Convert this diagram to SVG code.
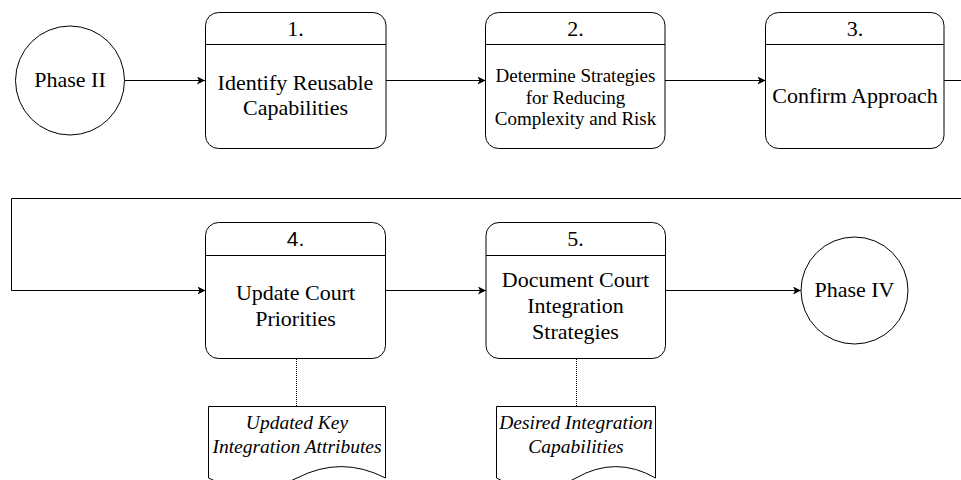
<svg xmlns="http://www.w3.org/2000/svg" width="961" height="480" viewBox="0 0 961 480">
<defs>
<style>
.shape{fill:#fff;stroke:#000;stroke-width:1}
.line{fill:none;stroke:#000;stroke-width:1}
.dot{fill:none;stroke:#000;stroke-width:1;stroke-dasharray:1 1}
.t{font-family:"Liberation Serif","Times New Roman",serif;font-size:22px;fill:#000;text-anchor:middle}
.s{font-size:19px}
.i{font-family:"Liberation Serif","Times New Roman",serif;font-size:19.5px;font-style:italic;fill:#000;text-anchor:middle}
.sans{font-family:"Liberation Sans",Arial,sans-serif;font-size:21px;fill:#000;text-anchor:middle}
</style>
<marker id="arr" viewBox="0 0 10 10" refX="10" refY="5" markerWidth="8" markerHeight="8" markerUnits="userSpaceOnUse" orient="auto">
<path d="M0,0 L10,5 L0,10 L2.5,5 Z" fill="#000"/>
</marker>
</defs>
<rect width="961" height="480" fill="#fff"/>
<g id="connectors">
<path class="line" d="M124.5,80.5 H205" marker-end="url(#arr)"/>
<path class="line" d="M386,80.5 H485.5" marker-end="url(#arr)"/>
<path class="line" d="M665,80.5 H765.5" marker-end="url(#arr)"/>
<path class="line" d="M944,80.5 H962"/>
<path class="line" d="M962,198.5 H11.5 V290.5 H205.5" marker-end="url(#arr)"/>
<path class="line" d="M385.5,290.5 H486" marker-end="url(#arr)"/>
<path class="line" d="M665.5,290.5 H801" marker-end="url(#arr)"/>
<path class="dot" d="M296.5,359 V406"/>
<path class="dot" d="M576.5,359 V406"/>
</g>
<g id="phase2">
<circle class="shape" cx="70" cy="80.5" r="54.5"/>
<text class="t" x="70" y="87">Phase II</text>
</g>
<g id="step1">
<rect class="shape" x="205.5" y="12.5" width="180.5" height="136" rx="13"/>
<path class="line" d="M205.5,44.5 H386"/>
<text class="t" x="295.5" y="35.5">1.</text>
<text class="t" x="295.5" y="90">Identify Reusable</text>
<text class="t" x="295.5" y="115">Capabilities</text>
</g>
<g id="step2">
<rect class="shape" x="485.5" y="12.5" width="179.5" height="136" rx="13"/>
<path class="line" d="M485.5,44.5 H665"/>
<text class="t" x="575.5" y="35.5">2.</text>
<text class="t s" x="575.5" y="82">Determine Strategies</text>
<text class="t s" x="575.5" y="103.5">for Reducing</text>
<text class="t s" x="575.5" y="125">Complexity and Risk</text>
</g>
<g id="step3">
<rect class="shape" x="765.5" y="12.5" width="178.5" height="136" rx="13"/>
<path class="line" d="M765.5,44.5 H944"/>
<text class="t" x="855" y="35.5">3.</text>
<text class="t" x="855" y="103">Confirm Approach</text>
</g>
<g id="step4">
<rect class="shape" x="205.5" y="222.5" width="180" height="136" rx="13"/>
<path class="line" d="M205.5,255.5 H385.5"/>
<text class="sans" x="295.5" y="246">4.</text>
<text class="t" x="295.5" y="300">Update Court</text>
<text class="t" x="295.5" y="325.5">Priorities</text>
</g>
<g id="step5">
<rect class="shape" x="486" y="222.5" width="179.5" height="136" rx="13"/>
<path class="line" d="M486,255.5 H665.5"/>
<text class="t" x="575.5" y="245.5">5.</text>
<text class="t" x="575.5" y="287">Document Court</text>
<text class="t" x="575.5" y="313">Integration</text>
<text class="t" x="575.5" y="339">Strategies</text>
</g>
<g id="phase4">
<circle class="shape" cx="854.5" cy="290.5" r="53.5"/>
<text class="t" x="854.5" y="297">Phase IV</text>
</g>
<g id="doc1">
<path class="shape" d="M208.5,406.5 H385.5 V478 Q341.25,455.2 297,478 Q252.75,500.8 208.5,478 Z"/>
<text class="i" x="297" y="429">Updated Key</text>
<text class="i" x="297" y="452.5">Integration Attributes</text>
</g>
<g id="doc2">
<path class="shape" d="M496.5,406.5 H655.5 V478 Q615.75,455.2 576,478 Q536.25,500.8 496.5,478 Z"/>
<text class="i" x="576" y="429">Desired Integration</text>
<text class="i" x="576" y="452.5">Capabilities</text>
</g>
</svg>
